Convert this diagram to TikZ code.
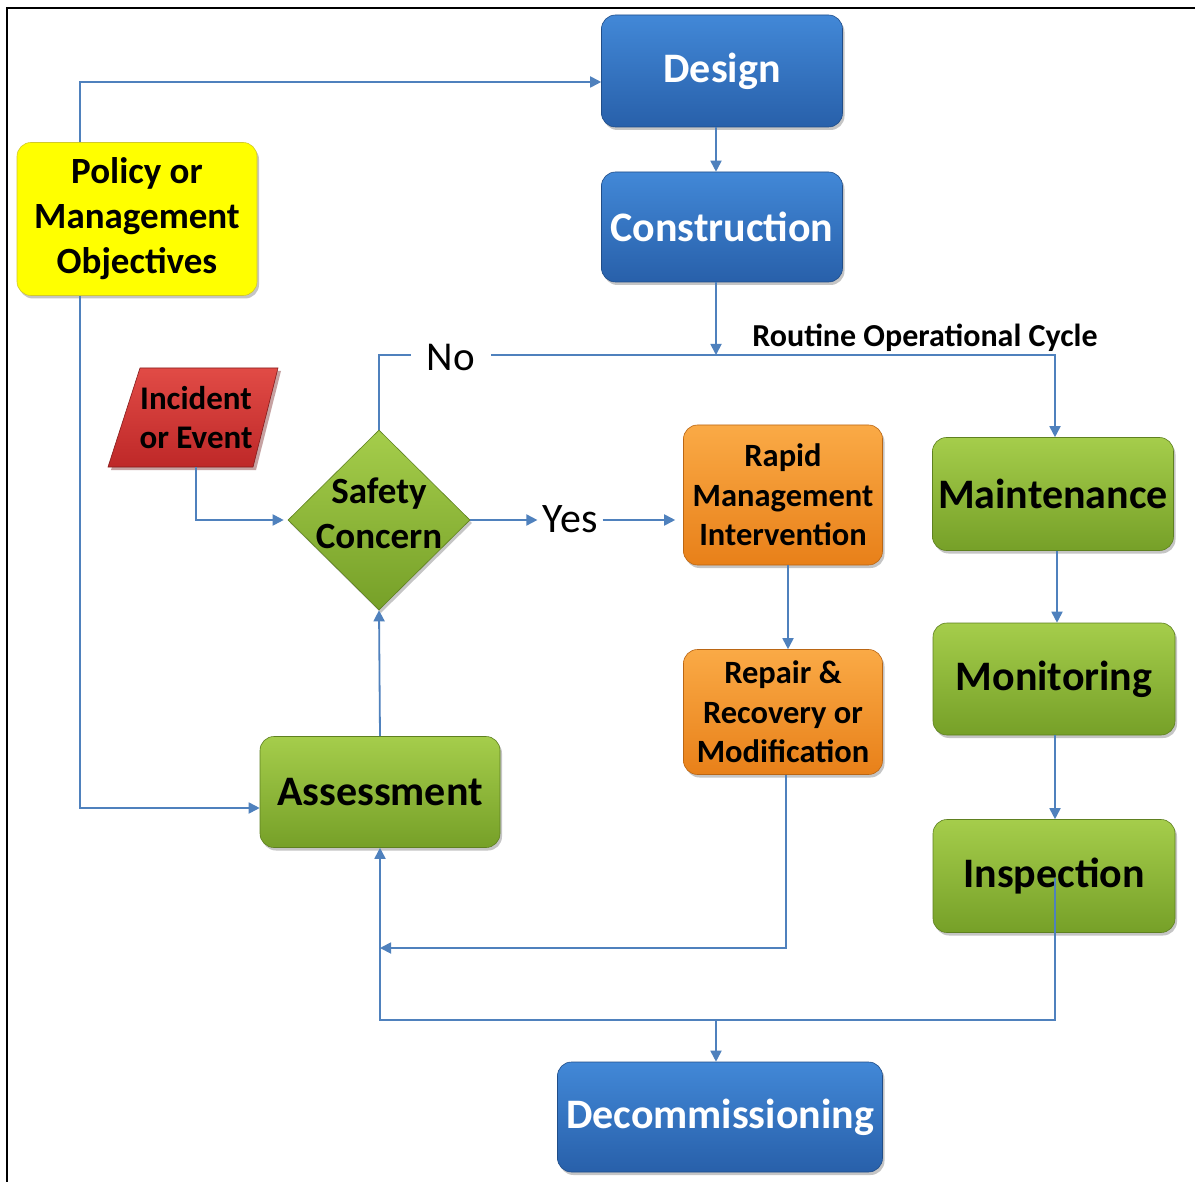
\documentclass[tikz,border=0pt]{standalone}
\usepackage{fontspec}
\setmainfont{Carlito}
\usetikzlibrary{arrows.meta,shapes.geometric,shadows,calc}
\definecolor{lineblue}{RGB}{79,129,189}
\definecolor{bluetop}{RGB}{66,136,215}
\definecolor{bluebot}{RGB}{40,96,170}
\definecolor{greentop}{RGB}{165,205,75}
\definecolor{greenbot}{RGB}{118,160,40}
\definecolor{orangetop}{RGB}{250,170,70}
\definecolor{orangebot}{RGB}{232,128,25}
\definecolor{redtop}{RGB}{225,75,70}
\definecolor{redbot}{RGB}{190,40,40}
\definecolor{yellowfill}{RGB}{255,255,0}
\tikzset{
  box/.style={rectangle, rounded corners=14pt, align=center, inner sep=2pt,
    drop shadow={shadow xshift=2pt, shadow yshift=-3pt, opacity=0.45}},
  bluebox/.style={box, top color=bluetop, bottom color=bluebot, draw=bluebot!80!black, line width=0.6pt,
    text=white, font=\fontsize{42}{46}\selectfont\bfseries},
  greenbox/.style={box, top color=greentop, bottom color=greenbot, draw=greenbot!80!black, line width=0.6pt,
    text=black, font=\fontsize{42}{46}\selectfont\bfseries},
  orangebox/.style={box, top color=orangetop, bottom color=orangebot, draw=orangebot!80!black, line width=0.6pt,
    text=black, font=\fontsize{32.5}{39.5}\selectfont\bfseries},
  yellowbox/.style={box, fill=yellowfill, draw=yellow!80!black, line width=0.6pt,
    text=black, font=\fontsize{37}{45}\selectfont\bfseries},
  conn/.style={draw=lineblue, line width=1.8pt},
  arr/.style={conn, -{Triangle[length=11pt,width=11pt]}},
  lbl/.style={inner sep=2pt, text=black},
}
\begin{document}
\begin{tikzpicture}[x=1pt,y=-1pt]
\useasboundingbox (0,0) rectangle (1195,1182);
\fill[white] (0,0) rectangle (1195,1182);
\draw[line width=2.8pt, black] (1195,8) -- (7,8) -- (7,1182);

% nodes
\node[bluebox, minimum width=241pt, minimum height=112pt] (des) at (722,71) {Design};
\node[bluebox, minimum width=241pt, minimum height=110pt] (con) at (722,227) {Construction};
\node[yellowbox, minimum width=240pt, minimum height=153pt] (pol) at (137,219) {Policy or\\Management\\Objectives};

\fill[redbot!60!black, opacity=0.4] (142,371) -- (281,371) -- (256,470) -- (111,470) -- cycle;
\shade[top color=redtop, bottom color=redbot, draw=redbot!70!black, line width=0.6pt] (140,368) -- (278,368) -- (253,467) -- (108,467) -- cycle;
\node[lbl, font=\fontsize{33}{39}\selectfont\bfseries, align=center, minimum height=99pt] (inc) at (196,417.5) {Incident\\or Event};

\node[diamond, minimum width=182pt, minimum height=180pt, inner sep=0pt,
  top color=greentop, bottom color=greenbot, draw=greenbot!80!black, line width=0.6pt,
  drop shadow={shadow xshift=2pt, shadow yshift=-3pt, opacity=0.45}] (sc) at (379,520) {};
\node[lbl, font=\fontsize{37}{45}\selectfont\bfseries, align=center] (sctext) at (379,513) {Safety\\Concern};

\node[orangebox, minimum width=199pt, minimum height=140pt] (rap) at (783,495) {Rapid\\Management\\Intervention};
\node[orangebox, minimum width=199pt, minimum height=125pt] (rep) at (783,712) {Repair \&\\Recovery or\\Modification};

\node[greenbox, minimum width=241pt, minimum height=113pt] (mnt) at (1053,494) {Maintenance};
\node[greenbox, minimum width=242pt, minimum height=112pt] (mon) at (1054,679) {Monitoring};
\node[greenbox, minimum width=242pt, minimum height=113pt] (ins) at (1054,876) {Inspection};
\node[greenbox, minimum width=240pt, minimum height=111pt] (ass) at (380,792) {Assessment};
\node[bluebox, minimum width=325pt, minimum height=110pt] (dec) at (720,1117) {Decommissioning};

% labels
\node[lbl, inner xsep=16pt, font=\fontsize{41}{44}\selectfont] (no) at (451,357) {No};
\node[lbl, inner xsep=5pt, font=\fontsize{42}{44}\selectfont] (yes) at (570,519) {Yes};
\node[lbl, font=\fontsize{32}{36}\selectfont\bfseries] (roc) at (925,338) {Routine Operational Cycle};

\coordinate (j1) at (716,355);
\coordinate (j2) at (380,948);
\coordinate (j3) at (716,1020);

% connectors
\draw[arr] ([xshift=63pt]pol.north west) |- ([yshift=-11pt]des.west);
\draw[arr] ([xshift=63pt]pol.south west) |- ([yshift=-16pt]ass.west);
\draw[arr] ([xshift=-6pt]des.south) -- ([xshift=-6pt]con.north);
\draw[arr] ([xshift=-6pt]con.south) -- (j1);
\draw[conn] (sc.north) |- ([yshift=2pt]no.west);
\draw[arr] ([yshift=2pt]no.east) -| ([xshift=2pt]mnt.north);
\draw[arr, shorten >=4pt] (inc.south) |- (sc.west);
\draw[arr] (sc.east) -- (sc.east -| yes.west);
\draw[arr, shorten >=8pt] (yes.east |- sc.east) -- (sc.east -| rap.west);
\draw[arr] ([xshift=5pt]rap.south) -- ([xshift=5pt]rep.north);
\draw[arr] ([xshift=3pt]rep.south) |- (j2);
\draw[arr] (ass.north) -- (sc.south);
\draw[arr] ([xshift=4pt]mnt.south) -- ([xshift=3pt]mon.north);
\draw[arr] ([xshift=1pt]mon.south) -- ([xshift=1pt]ins.north);
\draw[arr] ([xshift=1pt,yshift=-2pt]ins.center) |- (ass.south |- j3) -- (ass.south);
\draw[arr] (j3) -- (j3 |- dec.north);
\end{tikzpicture}
\end{document}
